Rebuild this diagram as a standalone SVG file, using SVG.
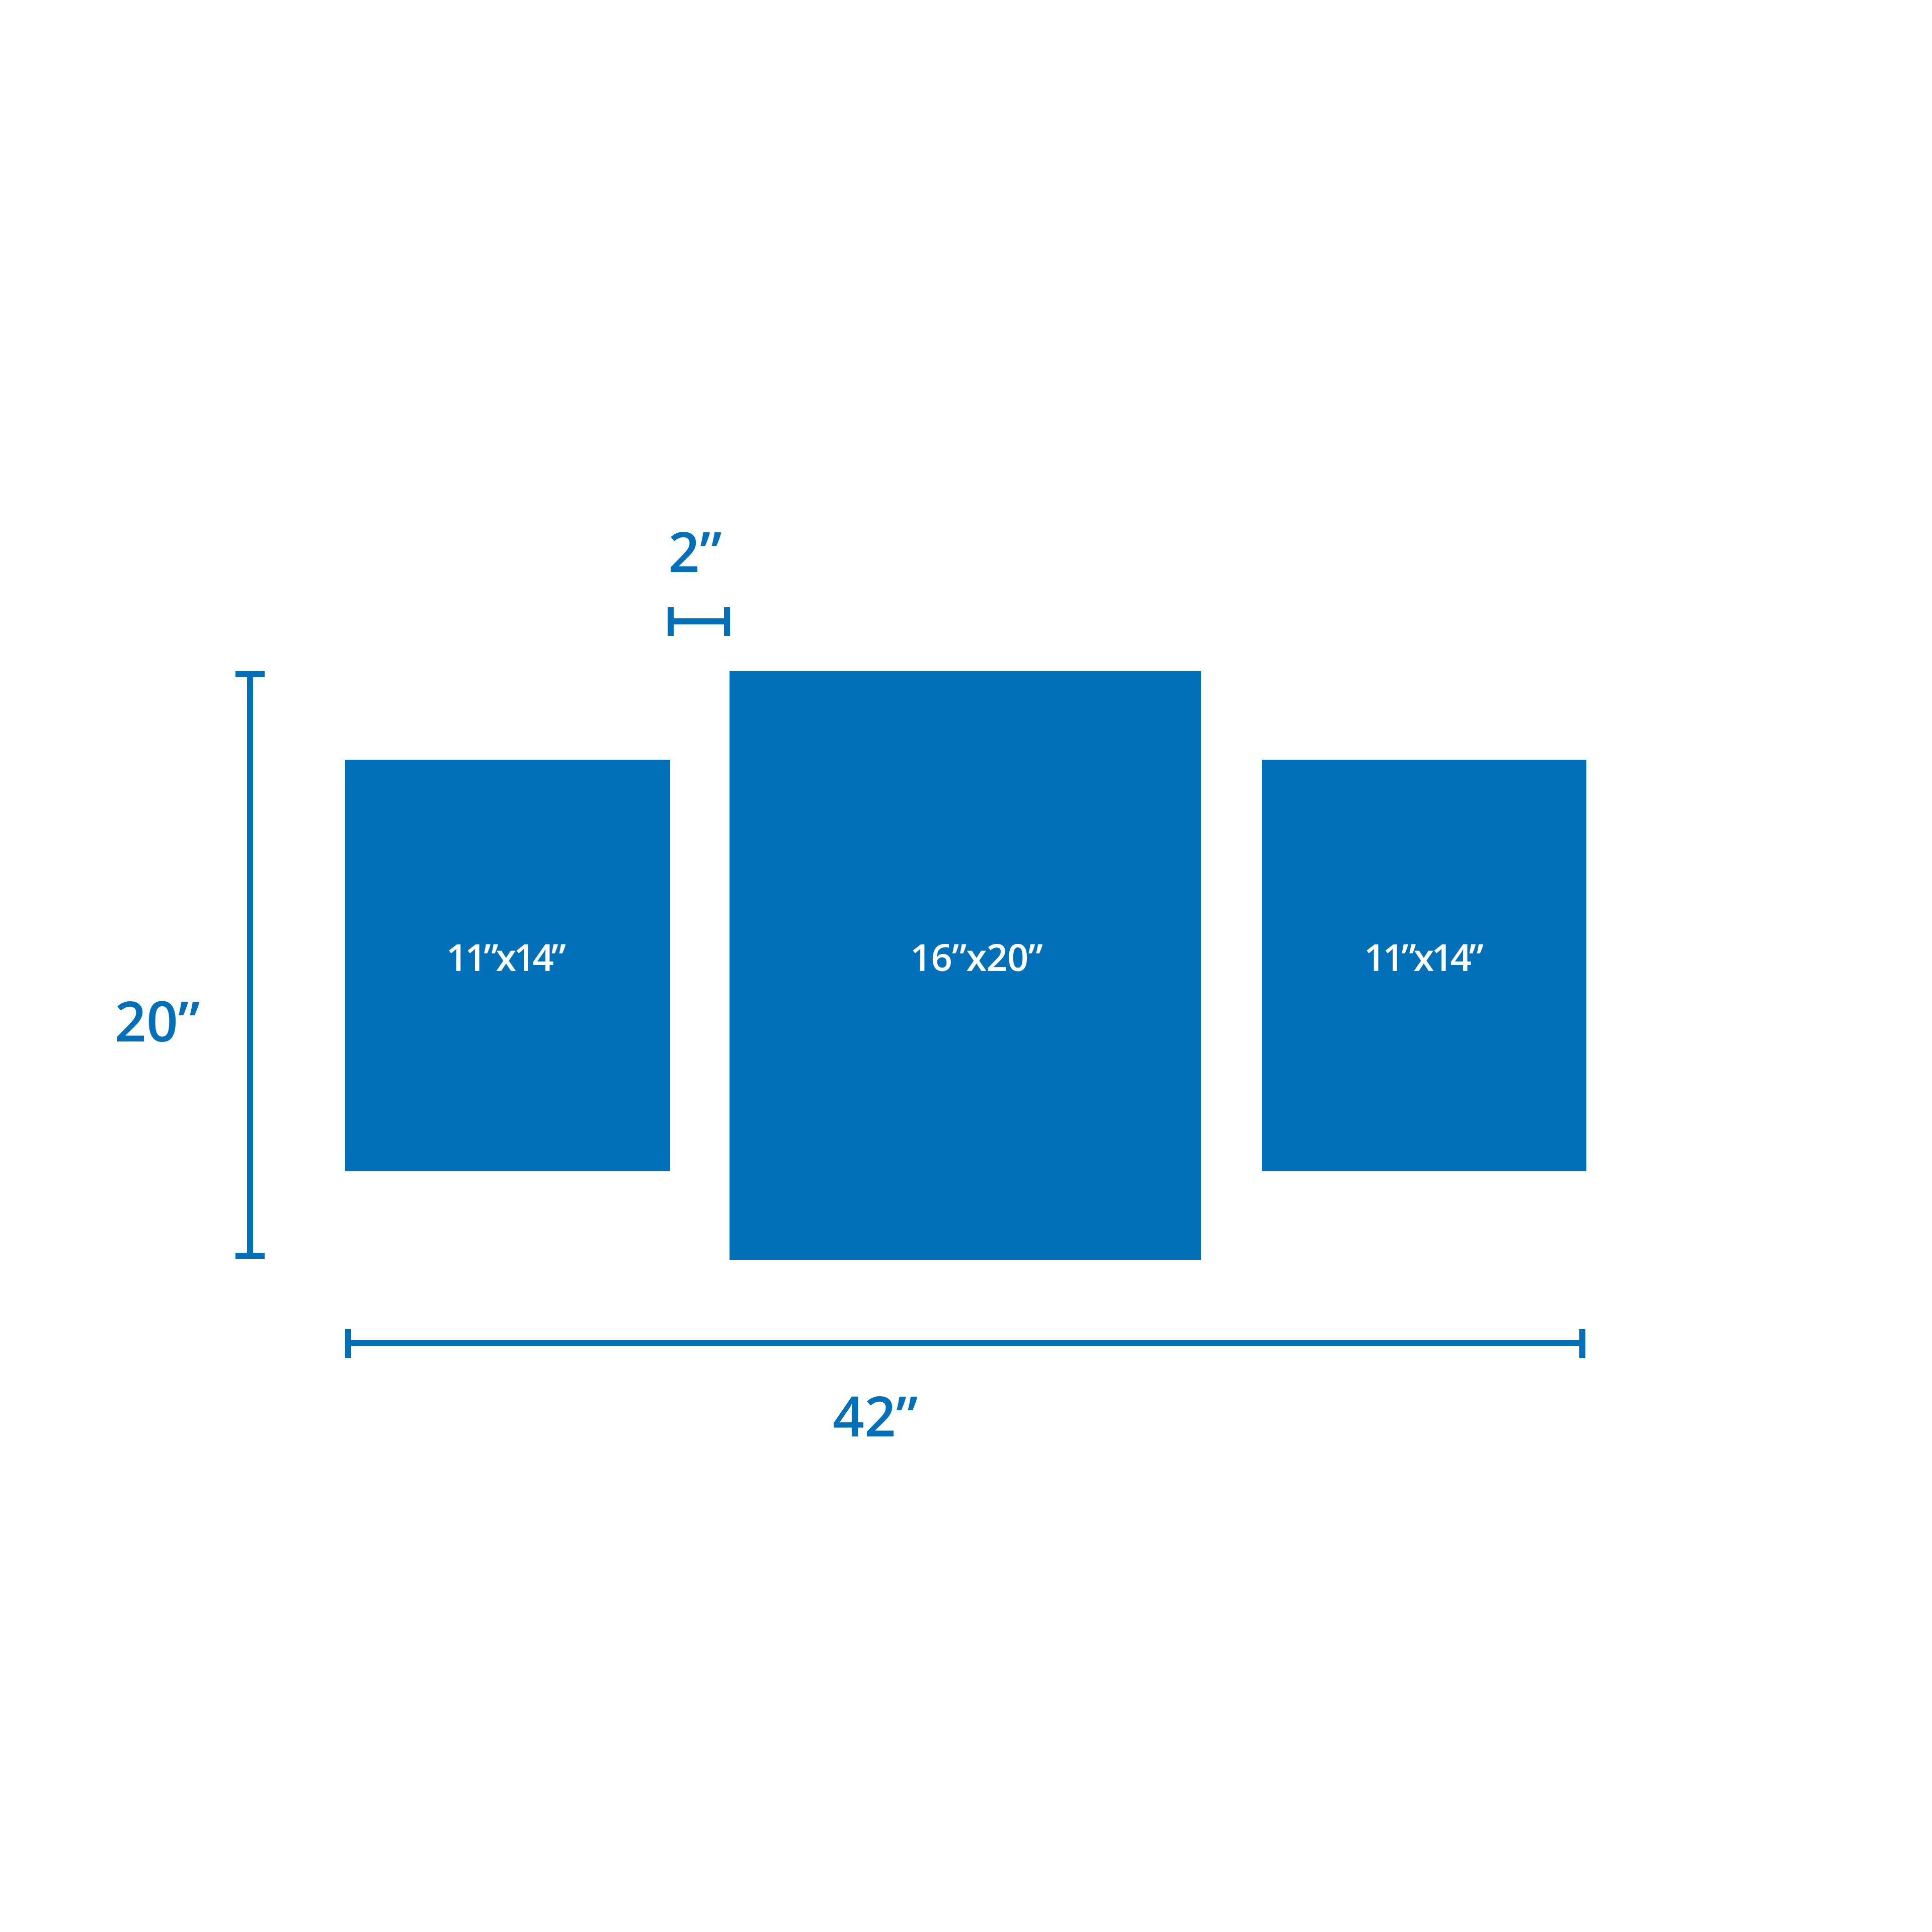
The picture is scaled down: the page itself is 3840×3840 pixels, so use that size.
<svg xmlns="http://www.w3.org/2000/svg" width="3840" height="3840" viewBox="0 0 3840 3840">
<style>
.frame{fill:#0170b8}
.dim{stroke:#0170b8;stroke-width:12;fill:none;stroke-linecap:square}
.lbl{font-family:"Open Sans","Liberation Sans",sans-serif;font-weight:600;fill:#ffffff;font-size:74px;text-anchor:middle}
.dlbl{font-family:"Open Sans","Liberation Sans",sans-serif;font-weight:600;fill:#0170b8;font-size:110px}
</style>
<rect width="3840" height="3840" fill="#ffffff"/>
<g id="frame-left">
<rect class="frame" x="686" y="1510" width="646" height="818"/>
<text class="lbl" x="1006" y="1930" textLength="238" lengthAdjust="spacing">11”x14”</text>
</g>
<g id="frame-center">
<rect class="frame" x="1450" y="1334" width="937" height="1170"/>
<text class="lbl" x="1941" y="1930" textLength="264" lengthAdjust="spacing">16”x20”</text>
</g>
<g id="frame-right">
<rect class="frame" x="2508" y="1510" width="645" height="818"/>
<text class="lbl" x="2830" y="1930" textLength="238" lengthAdjust="spacing">11”x14”</text>
</g>
<g id="connectors">
<path class="dim" d="M497 1340V2496M474 1340H520M474 2496H520"/>
<path class="dim" d="M692 2669H3145M692 2647V2693M3145 2647V2693"/>
<path class="dim" d="M1333 1235H1445M1333 1213V1258M1445 1213V1258"/>
</g>
<g id="dim-labels">
<text class="dlbl" x="228" y="2070">20”</text>
<text class="dlbl" x="1655" y="2855">42”</text>
<text class="dlbl" x="1328" y="1137">2”</text>
</g>
</svg>
